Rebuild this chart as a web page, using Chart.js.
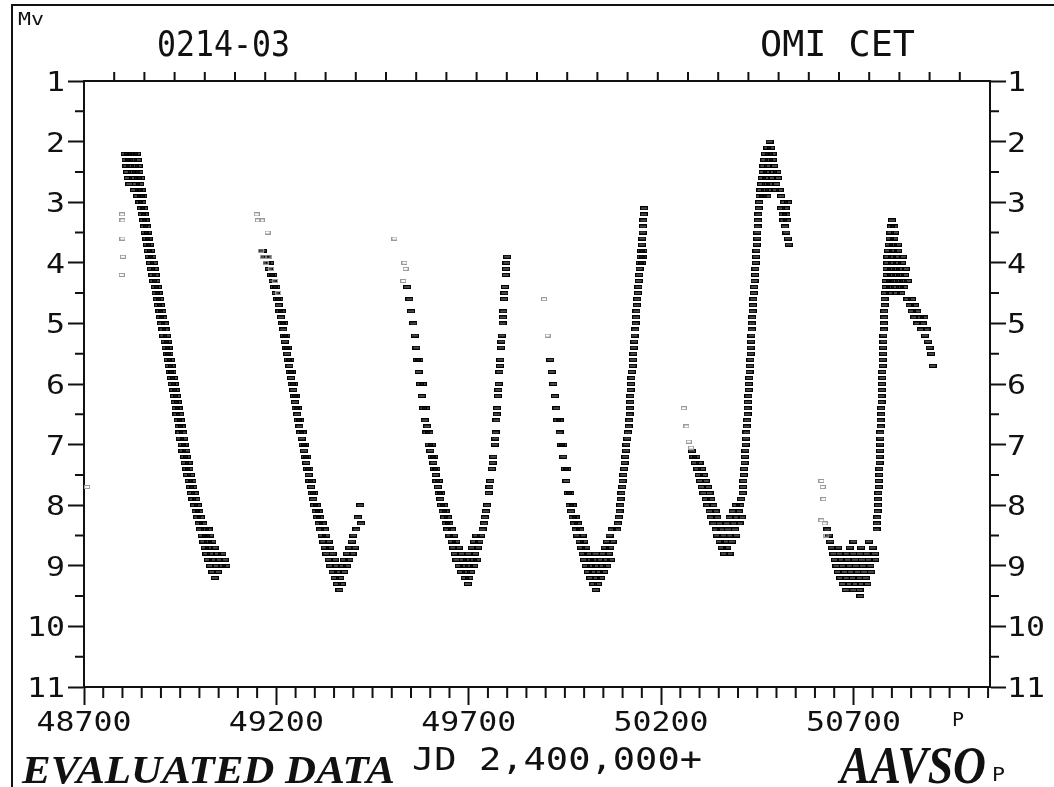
<!DOCTYPE html>
<html>
<head>
<meta charset="utf-8">
<script src="https://cdn.jsdelivr.net/npm/chart.js@4.4.1/dist/chart.umd.min.js"></script>
<style>
  html, body { margin: 0; padding: 0; background: #fff; }
</style>
</head>
<body>
<canvas id="myChart" width="1054" height="787"></canvas>
<script>
// axis ticks
const xTicks = [48700, 49200, 49700, 50200, 50700]
const yTicks = [1, 2, 3, 4, 5, 6, 7, 8, 9, 10, 11]

// observations [JD - 2400000, visual magnitude], one array per cycle
const cycle1 = [
  [48806,2.2],[48814,2.2],[48822,2.2],[48830,2.2],[48838,2.2],
  [48808,2.3],[48818,2.3],[48828,2.3],[48840,2.3],
  [48810,2.4],[48820,2.4],[48832,2.4],[48842,2.4],
  [48812,2.5],[48824,2.5],[48836,2.5],[48844,2.5],
  [48814,2.6],[48828,2.6],[48840,2.6],[48848,2.6],
  [48818,2.7],[48834,2.7],[48846,2.7],
  [48830,2.8],[48842,2.8],[48850,2.8],
  [48838,2.9],[48848,2.9],[48854,2.9],
  [48844,3.0],[48852,3.0],[48848,3.1],[48856,3.1],[48850,3.2],[48858,3.2],[48854,3.3],[48860,3.3],[48856,3.4],[48864,3.4],
  [48858,3.5],[48866,3.5],[48862,3.6],[48868,3.6],[48864,3.7],[48872,3.7],[48866,3.8],[48874,3.8],[48868,3.9],[48878,3.9],
  [48872,4.0],[48882,4.0],[48874,4.1],[48884,4.1],[48878,4.2],[48886,4.2],[48880,4.3],[48888,4.3],[48884,4.4],[48892,4.4],
  [48886,4.5],[48894,4.5],[48890,4.6],[48898,4.6],[48892,4.7],[48900,4.7],[48896,4.8],[48904,4.8],[48898,4.9],[48906,4.9],
  [48900,5.0],[48910,5.0],[48904,5.1],[48912,5.1],[48906,5.2],[48916,5.2],[48910,5.3],[48918,5.3],[48912,5.4],[48920,5.4],
  [48916,5.5],[48922,5.5],[48918,5.6],[48926,5.6],[48920,5.7],[48928,5.7],[48924,5.8],[48930,5.8],[48926,5.9],[48934,5.9],
  [48928,6.0],[48936,6.0],[48932,6.1],[48938,6.1],[48934,6.2],[48942,6.2],[48936,6.3],[48944,6.3],[48938,6.4],[48946,6.4],
  [48940,6.5],[48950,6.5],[48944,6.6],[48952,6.6],[48946,6.7],[48954,6.7],[48948,6.8],[48958,6.8],[48950,6.9],[48960,6.9],
  [48954,7.0],[48962,7.0],[48956,7.1],[48966,7.1],[48960,7.2],[48968,7.2],[48962,7.3],[48972,7.3],[48966,7.4],[48974,7.4],
  [48968,7.5],[48978,7.5],[48972,7.6],[48982,7.6],[48976,7.7],[48984,7.7],[48978,7.8],[48988,7.8],[48982,7.9],[48992,7.9],
  [48986,8.0],[48996,8.0],[48990,8.1],[49000,8.1],[48994,8.2],[49004,8.2],[48998,8.3],[49010,8.3],
  [49002,8.4],[49014,8.4],[49024,8.4],[49006,8.5],[49018,8.5],[49028,8.5],[49010,8.6],[49022,8.6],[49034,8.6],
  [49014,8.7],[49026,8.7],[49040,8.7],[49018,8.8],[49030,8.8],[49046,8.8],[49060,8.8],
  [49022,8.9],[49036,8.9],[49052,8.9],[49066,8.9],[49028,9.0],[49042,9.0],[49058,9.0],[49070,9.0],
  [49034,9.1],[49048,9.1],[49040,9.2]
]

const cycle2 = [
  [49164,3.8],[49170,3.9],[49178,3.9],[49176,4.0],[49184,4.0],[49180,4.1],[49186,4.2],[49192,4.2],[49190,4.3],
  [49194,4.4],[49200,4.4],[49198,4.5],[49202,4.6],[49208,4.6],[49206,4.7],[49208,4.8],[49214,4.8],[49212,4.9],
  [49214,5.0],[49220,5.0],[49218,5.1],[49220,5.2],[49226,5.2],[49222,5.3],[49226,5.4],[49230,5.4],[49228,5.5],
  [49230,5.6],[49236,5.6],[49234,5.7],[49236,5.8],[49240,5.8],[49238,5.9],[49240,6.0],[49246,6.0],[49244,6.1],
  [49246,6.2],[49250,6.2],[49248,6.3],[49250,6.4],[49256,6.4],[49254,6.5],[49256,6.6],[49262,6.6],[49260,6.7],
  [49262,6.8],[49268,6.8],[49266,6.9],[49268,7.0],[49274,7.0],[49272,7.1],[49274,7.2],[49280,7.2],[49278,7.3],
  [49280,7.4],[49286,7.4],[49284,7.5],[49286,7.6],[49292,7.6],[49290,7.7],[49292,7.8],[49298,7.8],[49296,7.9],
  [49298,8.0],[49306,8.0],[49302,8.1],[49310,8.1],[49306,8.2],[49314,8.2],[49310,8.3],[49320,8.3],
  [49314,8.4],[49326,8.4],[49318,8.5],[49330,8.5],[49400,8.5],[49322,8.6],[49336,8.6],[49396,8.6],
  [49326,8.7],[49340,8.7],[49390,8.7],[49404,8.7],[49330,8.8],[49346,8.8],[49384,8.8],[49398,8.8],
  [49336,8.9],[49352,8.9],[49376,8.9],[49390,8.9],[49340,9.0],[49356,9.0],[49370,9.0],[49384,9.0],
  [49346,9.1],[49360,9.1],[49376,9.1],[49352,9.2],[49366,9.2],[49358,9.3],[49370,9.3],[49364,9.4],
  [49408,8.4],[49412,8.2],[49420,8.3],[49418,8.0]
]

const cycle3 = [
  [49540,4.4],[49546,4.6],[49550,4.8],[49556,5.0],[49560,5.2],[49564,5.4],[49566,5.6],[49572,5.6],[49570,5.8],
  [49574,6.0],[49580,6.0],[49578,6.2],[49582,6.4],[49588,6.4],[49586,6.6],[49592,6.7],[49590,6.8],[49598,6.8],
  [49596,7.0],[49604,7.0],[49600,7.1],[49604,7.2],[49610,7.2],[49608,7.3],[49610,7.4],[49616,7.4],[49614,7.5],
  [49616,7.6],[49622,7.6],[49620,7.7],[49622,7.8],[49628,7.8],[49626,7.9],[49628,8.0],[49636,8.0],
  [49632,8.1],[49640,8.1],[49636,8.2],[49646,8.2],[49640,8.3],[49650,8.3],[49740,8.3],
  [49644,8.4],[49656,8.4],[49736,8.4],[49650,8.5],[49662,8.5],[49720,8.5],[49732,8.5],
  [49656,8.6],[49668,8.6],[49714,8.6],[49728,8.6],[49660,8.7],[49674,8.7],[49708,8.7],[49724,8.7],
  [49664,8.8],[49680,8.8],[49700,8.8],[49716,8.8],[49668,8.9],[49684,8.9],[49696,8.9],[49710,8.9],[49722,8.9],
  [49674,9.0],[49688,9.0],[49700,9.0],[49714,9.0],[49680,9.1],[49694,9.1],[49706,9.1],[49690,9.2],[49702,9.2],[49698,9.3],
  [49742,8.2],[49745,8.1],[49748,8.0],[49752,7.8],[49754,7.7],[49756,7.6],[49760,7.4],[49762,7.3],[49764,7.2],
  [49768,7.0],[49769,6.9],[49770,6.8],[49772,6.6],[49773,6.5],[49774,6.4],[49776,6.2],[49777,6.1],[49778,6.0],
  [49780,5.8],[49781,5.7],[49782,5.6],[49784,5.4],[49785,5.3],[49786,5.2],[49788,5.0],[49789,4.9],[49790,4.8],
  [49792,4.6],[49793,4.5],[49794,4.4],[49796,4.2],[49797,4.1],[49798,4.0],[49800,3.9]
]

const cycle4 = [
  [49912,5.6],[49916,5.8],[49920,6.0],[49924,6.2],[49928,6.4],[49930,6.6],[49936,6.6],[49936,6.8],
  [49940,7.0],[49946,7.0],[49946,7.2],[49950,7.4],[49956,7.4],[49954,7.6],[49958,7.8],[49964,7.8],
  [49962,8.0],[49970,8.0],[49966,8.1],[49970,8.2],[49978,8.2],[49974,8.3],[49984,8.3],
  [49978,8.4],[49990,8.4],[50072,8.4],[49982,8.5],[49996,8.5],[50066,8.5],
  [49988,8.6],[50000,8.6],[50060,8.6],[50074,8.6],[49992,8.7],[50006,8.7],[50054,8.7],[50068,8.7],
  [49996,8.8],[50010,8.8],[50030,8.8],[50048,8.8],[50064,8.8],
  [50000,8.9],[50014,8.9],[50026,8.9],[50040,8.9],[50056,8.9],[50070,8.9],
  [50004,9.0],[50018,9.0],[50032,9.0],[50046,9.0],[50060,9.0],
  [50010,9.1],[50024,9.1],[50038,9.1],[50052,9.1],[50016,9.2],[50030,9.2],[50044,9.2],[50024,9.3],[50036,9.3],[50030,9.4],
  [50086,8.4],[50088,8.3],[50090,8.2],[50092,8.1],[50094,8.0],[50095,7.9],[50097,7.8],[50099,7.7],[50100,7.6],
  [50102,7.5],[50104,7.4],[50105,7.3],[50107,7.2],[50109,7.1],[50110,7.0],[50112,6.9],[50114,6.8],[50116,6.7],
  [50117,6.6],[50118,6.5],[50119,6.4],[50120,6.3],[50120,6.2],[50121,6.1],[50122,6.0],[50123,5.9],[50124,5.8],
  [50126,5.7],[50127,5.6],[50128,5.5],[50129,5.4],[50130,5.3],[50131,5.2],[50133,5.1],[50134,5.0],[50135,4.9],
  [50136,4.8],[50137,4.7],[50138,4.6],[50140,4.5],[50141,4.4],[50142,4.3],[50143,4.2],[50144,4.1],
  [50145,4.0],[50150,4.0],[50147,3.9],[50152,3.9],[50148,3.8],[50154,3.8],[50150,3.7],[50151,3.6],
  [50152,3.5],[50153,3.4],[50154,3.3],[50155,3.2],[50156,3.1]
]

const cycle5 = [
  [50280,7.1],[50284,7.2],[50292,7.2],[50288,7.3],[50300,7.3],[50294,7.4],[50306,7.4],[50298,7.5],[50312,7.5],
  [50302,7.6],[50316,7.6],[50306,7.7],[50322,7.7],[50310,7.8],[50326,7.8],[50412,7.8],[50316,7.9],[50330,7.9],[50408,7.9],
  [50320,8.0],[50336,8.0],[50394,8.0],[50406,8.0],[50326,8.1],[50342,8.1],[50386,8.1],[50402,8.1],
  [50330,8.2],[50346,8.2],[50378,8.2],[50396,8.2],[50410,8.2],[50336,8.3],[50352,8.3],[50370,8.3],[50390,8.3],[50404,8.3],
  [50342,8.4],[50356,8.4],[50374,8.4],[50392,8.4],[50346,8.5],[50362,8.5],[50380,8.5],[50396,8.5],
  [50352,8.6],[50366,8.6],[50384,8.6],[50358,8.7],[50372,8.7],[50364,8.8],[50378,8.8],
  [50413,7.7],[50414,7.6],[50415,7.5],[50416,7.4],[50417,7.3],[50418,7.2],[50419,7.1],[50420,7.0],[50421,6.9],
  [50422,6.8],[50423,6.7],[50424,6.6],[50425,6.5],[50425,6.4],[50426,6.3],[50427,6.2],[50428,6.1],[50428,6.0],
  [50429,5.9],[50430,5.8],[50431,5.7],[50432,5.6],[50433,5.5],[50433,5.4],[50434,5.3],[50435,5.2],[50436,5.1],
  [50436,5.0],[50437,4.9],[50438,4.8],[50439,4.7],[50440,4.6],[50441,4.5],[50442,4.4],[50443,4.3],[50444,4.2],
  [50445,4.1],[50446,4.0],[50447,3.9],[50448,3.8],[50449,3.7],[50450,3.6],[50450,3.5],[50451,3.4],[50452,3.3],
  [50453,3.2],[50454,3.1],
  [50455,3.0],[50520,3.0],[50530,3.0],[50456,2.9],[50466,2.9],[50476,2.9],[50512,2.9],
  [50458,2.8],[50470,2.8],[50480,2.8],[50496,2.8],[50508,2.8],[50460,2.7],[50472,2.7],[50484,2.7],[50500,2.7],
  [50462,2.6],[50474,2.6],[50488,2.6],[50504,2.6],[50464,2.5],[50476,2.5],[50490,2.5],[50502,2.5],
  [50466,2.4],[50478,2.4],[50494,2.4],[50468,2.3],[50480,2.3],[50490,2.3],[50470,2.2],[50480,2.2],[50490,2.2],
  [50476,2.1],[50486,2.1],[50482,2.0],
  [50512,3.1],[50524,3.1],[50516,3.2],[50526,3.2],[50518,3.3],[50528,3.3],[50522,3.4],[50526,3.5],[50530,3.6],[50532,3.7]
]

const cycle6 = [
  [50632,8.4],[50636,8.5],[50640,8.6],[50700,8.6],[50740,8.6],
  [50644,8.7],[50660,8.7],[50690,8.7],[50720,8.7],[50750,8.7],
  [50648,8.8],[50664,8.8],[50680,8.8],[50700,8.8],[50716,8.8],[50734,8.8],[50756,8.8],
  [50652,8.9],[50668,8.9],[50684,8.9],[50704,8.9],[50722,8.9],[50740,8.9],[50756,8.9],
  [50656,9.0],[50672,9.0],[50688,9.0],[50706,9.0],[50724,9.0],[50744,9.0],
  [50660,9.1],[50676,9.1],[50694,9.1],[50710,9.1],[50728,9.1],[50746,9.1],
  [50666,9.2],[50680,9.2],[50698,9.2],[50714,9.2],[50732,9.2],
  [50672,9.3],[50688,9.3],[50704,9.3],[50720,9.3],[50736,9.3],[50680,9.4],[50700,9.4],[50716,9.4],[50718,9.5],
  [50760,8.4],[50761,8.3],[50762,8.2],[50763,8.1],[50764,8.0],[50764,7.9],[50765,7.8],[50766,7.7],[50766,7.6],
  [50767,7.5],[50767,7.4],[50768,7.3],[50768,7.2],[50769,7.1],[50769,7.0],[50770,6.9],[50770,6.8],[50771,6.7],
  [50771,6.6],[50772,6.5],[50772,6.4],[50773,6.3],[50773,6.2],[50774,6.1],[50774,6.0],[50775,5.9],[50775,5.8],
  [50776,5.7],[50776,5.6],[50777,5.5],[50777,5.4],[50778,5.3],[50778,5.2],[50779,5.1],[50779,5.0],[50780,4.9],
  [50780,4.8],[50781,4.7],[50781,4.6],
  [50782,4.5],[50796,4.5],[50810,4.5],[50824,4.5],[50784,4.4],[50796,4.4],[50808,4.4],[50820,4.4],[50832,4.4],
  [50784,4.3],[50796,4.3],[50806,4.3],[50818,4.3],[50830,4.3],[50842,4.3],
  [50786,4.2],[50798,4.2],[50810,4.2],[50822,4.2],[50834,4.2],[50786,4.1],[50798,4.1],[50810,4.1],[50822,4.1],[50836,4.1],
  [50788,4.0],[50800,4.0],[50812,4.0],[50826,4.0],[50788,3.9],[50800,3.9],[50814,3.9],[50828,3.9],
  [50790,3.8],[50802,3.8],[50816,3.8],[50792,3.7],[50804,3.7],[50816,3.7],[50794,3.6],[50806,3.6],
  [50796,3.5],[50808,3.5],[50798,3.4],[50806,3.4],[50800,3.3],
  [50840,4.6],[50852,4.6],[50846,4.7],[50860,4.7],[50852,4.8],[50866,4.8],[50858,4.9],[50872,4.9],[50884,4.9],
  [50866,5.0],[50880,5.0],[50876,5.1],[50890,5.1],[50886,5.2],[50894,5.3],[50898,5.4],[50902,5.5],[50906,5.7]
]

// sparse / lower weight observations
const sparse = [
  [48708,7.7],[48799,3.2],[48800,3.3],[48800,3.6],[48801,3.9],[48798,4.2],
  [49149,3.2],[49152,3.3],[49162,3.3],[49177,3.5],[49160,3.8],[49166,3.9],[49180,3.9],[49172,4.0],[49186,4.1],[49196,4.3],[49205,4.5],
  [49507,3.6],[49533,4.0],[49536,4.1],[49530,4.3],
  [49896,4.6],[49905,5.2],
  [50259,6.4],[50266,6.7],[50272,6.95],[50278,7.05],
  [50617,7.6],[50620,7.7],[50622,7.9],[50617,8.25],[50625,8.3],[50630,8.5]
]

const xMin = 48700
const xMax = 51055
const monoFont = "'DejaVu Sans Mono', monospace"
const serifFont = "'Liberation Serif', 'DejaVu Serif', serif"

function makeMark(stroke, fill, w, h) {
  const c = document.createElement('canvas')
  c.width = w
  c.height = h
  const g = c.getContext('2d')
  if (fill) {
    g.fillStyle = fill
    g.fillRect(0, 0, w, h)
  }
  g.strokeStyle = stroke
  g.lineWidth = 1
  g.strokeRect(0.5, 0.5, w - 1, h - 1)
  return c
}
const darkMark = makeMark('#000', 'rgba(0,0,0,0.7)', 8, 4)
const greyMark = makeMark('#9a9a9a', null, 6, 4)

function toPoints(arr) {
  return arr.map(p => ({ x: p[0], y: p[1] }))
}

// draws text squeezed or stretched to a given width
function fitText(ctx, text, x, y, w, font) {
  ctx.save()
  ctx.font = font
  const m = ctx.measureText(text).width
  ctx.translate(x, y)
  ctx.scale(w / m, 1)
  ctx.textAlign = 'left'
  ctx.textBaseline = 'alphabetic'
  ctx.fillText(text, 0, 0)
  ctx.restore()
}

function stretchText(ctx, text, x, y, sx, align) {
  const m = ctx.measureText(text).width * sx
  let left = x
  if (align === 'center') left = x - m / 2
  if (align === 'right') left = x - m
  ctx.save()
  ctx.translate(left, y)
  ctx.scale(sx, 1)
  ctx.fillText(text, 0, 0)
  ctx.restore()
}

const decor = {
  id: 'decor',
  afterDraw(chart) {
    const ctx = chart.ctx
    const xs = chart.scales.x
    const ys = chart.scales.y
    const a = chart.chartArea
    ctx.save()
    ctx.strokeStyle = '#111'
    ctx.fillStyle = '#111'
    ctx.lineWidth = 2

    // minor ticks: every 50 days below, 30 equal steps on top, half magnitudes on the sides
    ctx.beginPath()
    for (let v = xMin; v <= xMax; v += 50) {
      if ((v - xMin) % 500 === 0) continue
      const px = xs.getPixelForValue(v)
      ctx.moveTo(px, a.bottom); ctx.lineTo(px, a.bottom + 11)
    }
    for (let i = 1; i < 30; i++) {
      const px = xs.getPixelForValue(xMin + i * (xMax - xMin) / 30)
      ctx.moveTo(px, a.top); ctx.lineTo(px, a.top - 9)
    }
    for (let m = 1.5; m < 11; m += 1) {
      const py = ys.getPixelForValue(m)
      ctx.moveTo(a.left, py); ctx.lineTo(a.left - 9, py)
      ctx.moveTo(a.right, py); ctx.lineTo(a.right + 9, py)
    }
    ctx.stroke()

    // tick labels
    ctx.font = '27px ' + monoFont
    ctx.textBaseline = 'alphabetic'
    xs.ticks.forEach(t => {
      stretchText(ctx, String(t.value), xs.getPixelForValue(t.value), 731, 1.17, 'center')
    })
    ys.ticks.forEach(t => {
      const py = ys.getPixelForValue(t.value) + 10
      stretchText(ctx, String(t.value), a.left - 19, py, 1.17, 'right')
      stretchText(ctx, String(t.value), a.right + 17, py, 1.17, 'left')
    })

    // page frame
    ctx.beginPath()
    ctx.moveTo(12, 787); ctx.lineTo(12, 5); ctx.lineTo(1054, 5)
    ctx.stroke()

    // header and footer texts
    fitText(ctx, 'Mv', 18, 25, 26, '18px ' + monoFont)
    fitText(ctx, '0214-03', 157, 56, 133, '35px ' + monoFont)
    fitText(ctx, 'OMI CET', 760, 56, 155, '35px ' + monoFont)
    ctx.font = '20px ' + monoFont
    ctx.fillText('P', xs.getPixelForValue(50972) - 6, 726)
    fitText(ctx, 'EVALUATED DATA', 22, 783, 373, 'italic bold 40px ' + serifFont)
    fitText(ctx, 'JD 2,400,000+', 412, 770, 290, '32px ' + monoFont)
    fitText(ctx, 'AAVSO', 840, 783, 146, 'italic bold 52px ' + serifFont)
    fitText(ctx, 'P', 992, 781, 13, '20px ' + monoFont)
    ctx.restore()
  }
}

function magAxis(pos, w) {
  return {
    type: 'linear',
    position: pos,
    reverse: true,
    min: 1,
    max: 11,
    afterBuildTicks: s => { s.ticks = yTicks.map(v => ({ value: v })) },
    afterFit: s => { s.width = w },
    ticks: { display: false },
    grid: { drawOnChartArea: false, drawTicks: true, tickLength: 16, tickWidth: 2, tickColor: '#111' },
    border: { display: true, color: '#111', width: 2 }
  }
}

function jdAxis(pos, h, showTicks) {
  return {
    type: 'linear',
    position: pos,
    min: xMin,
    max: xMax,
    afterBuildTicks: s => { s.ticks = xTicks.map(v => ({ value: v })) },
    afterFit: s => { s.height = h },
    ticks: { display: false },
    grid: { drawOnChartArea: false, drawTicks: showTicks, tickLength: 18, tickWidth: 2, tickColor: '#111' },
    border: { display: true, color: '#111', width: 2 }
  }
}

const cycles = [cycle1, cycle2, cycle3, cycle4, cycle5, cycle6]
const datasets = cycles.map((c, i) => ({
  label: 'cycle ' + (i + 1),
  data: toPoints(c),
  pointStyle: darkMark,
  pointRadius: 4
}))
datasets.unshift({
  label: 'sparse',
  data: toPoints(sparse),
  pointStyle: greyMark,
  pointRadius: 3
})

const config = {
  type: 'scatter',
  data: { datasets: datasets },
  options: {
    responsive: false,
    animation: false,
    devicePixelRatio: 1,
    layout: { padding: 0 },
    plugins: { legend: { display: false }, tooltip: { enabled: false } },
    scales: {
      x: jdAxis('bottom', 100, true),
      x2: jdAxis('top', 81, false),
      y: magAxis('left', 84),
      y2: magAxis('right', 64)
    }
  },
  plugins: [decor]
}

let myChart = new Chart(document.getElementById('myChart'), config)
</script>
</body>
</html>
